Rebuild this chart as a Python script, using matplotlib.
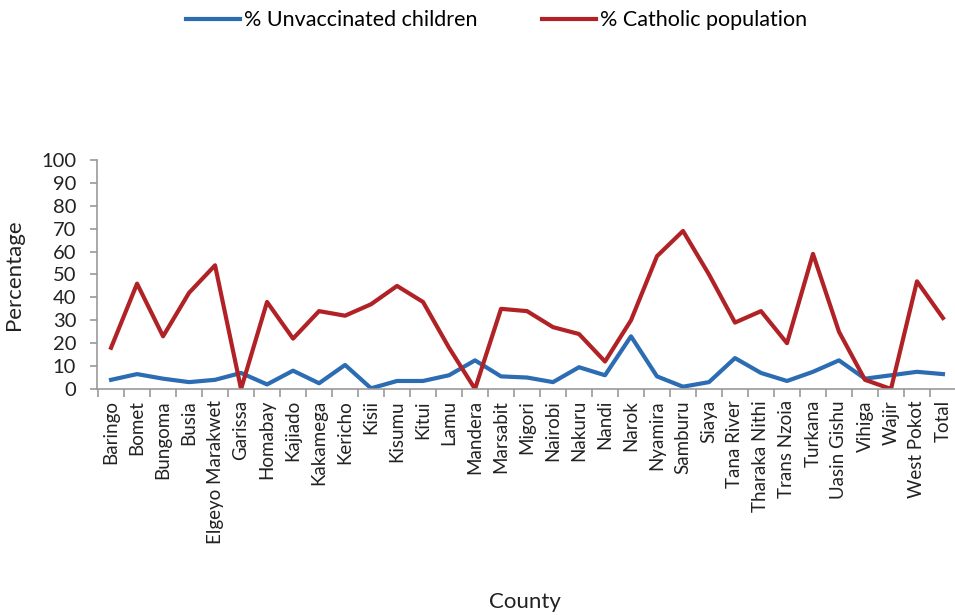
import numpy as np
import matplotlib.pyplot as plt

counties = ['Baringo', 'Bomet', 'Bungoma', 'Busia', 'Elgeyo Marakwet', 'Garissa',
            'Homabay', 'Kajiado', 'Kakamega', 'Kericho', 'Kisii', 'Kisumu', 'Kitui',
            'Lamu', 'Mandera', 'Marsabit', 'Migori', 'Nairobi', 'Nakuru', 'Nandi',
            'Narok', 'Nyamira', 'Samburu', 'Siaya', 'Tana River', 'Tharaka Nithi',
            'Trans Nzoia', 'Turkana', 'Uasin Gishu', 'Vihiga', 'Wajir', 'West Pokot',
            'Total']
unvaccinated = [4, 6.5, 4.5, 3, 4, 7, 2, 8, 2.5, 10.5, 0.3, 3.5, 3.5, 6, 12.5,
                5.5, 5, 3, 9.5, 6, 23, 5.5, 1, 3, 13.5, 7, 3.5, 7.5, 12.5, 4.5,
                6, 7.5, 6.5]
catholic = [18, 46, 23, 42, 54, 0, 38, 22, 34, 32, 37, 45, 38, 18, 0, 35, 34,
            27, 24, 12, 30, 58, 69, 50, 29, 34, 20, 59, 25, 4, 0, 47, 31]

plt.rcParams['font.family'] = ['Lato', 'DejaVu Sans']
text_col = '#222222'

fig = plt.figure(figsize=(9.55, 6.15), dpi=100)
ax = fig.add_axes([0.1016, 0.3675, 0.9005, 0.3724])

x = np.arange(len(counties))
ax.plot(x, unvaccinated, color='#2b6cb3', lw=3, label='% Unvaccinated children')
ax.plot(x, catholic, color='#b02226', lw=3, label='% Catholic population')

ax.set_xlim(-0.54, len(counties) - 0.46)
ax.set_ylim(0, 100)
ax.set_yticks(range(0, 101, 10))
ax.set_xticks(x)
ax.set_xticklabels(counties, rotation=90, fontsize=13.5, color=text_col)
ax.set_xticks(np.arange(-0.5, len(counties), 1), minor=True)
ax.tick_params(axis='x', which='major', length=0, pad=8)
ax.tick_params(axis='x', which='minor', length=6, color='#999999', width=1.2)
ax.tick_params(axis='y', length=5, color='#999999', width=1.2, labelsize=14.5,
               labelcolor=text_col, pad=10)

for s in ['top', 'right']:
    ax.spines[s].set_visible(False)
for s in ['left', 'bottom']:
    ax.spines[s].set_color('#999999')
    ax.spines[s].set_linewidth(1.2)

ax.set_ylabel('Percentage', fontsize=16, color=text_col, labelpad=12)
fig.text(0.55, 0.012, 'County', fontsize=16, color=text_col, ha='center')

fig.legend(loc='upper center', bbox_to_anchor=(0.52, 1.015), ncol=2, frameon=False,
           fontsize=15.5, handlelength=2.5, handletextpad=0.2, columnspacing=3)

fig.savefig('out.png', dpi=100)
